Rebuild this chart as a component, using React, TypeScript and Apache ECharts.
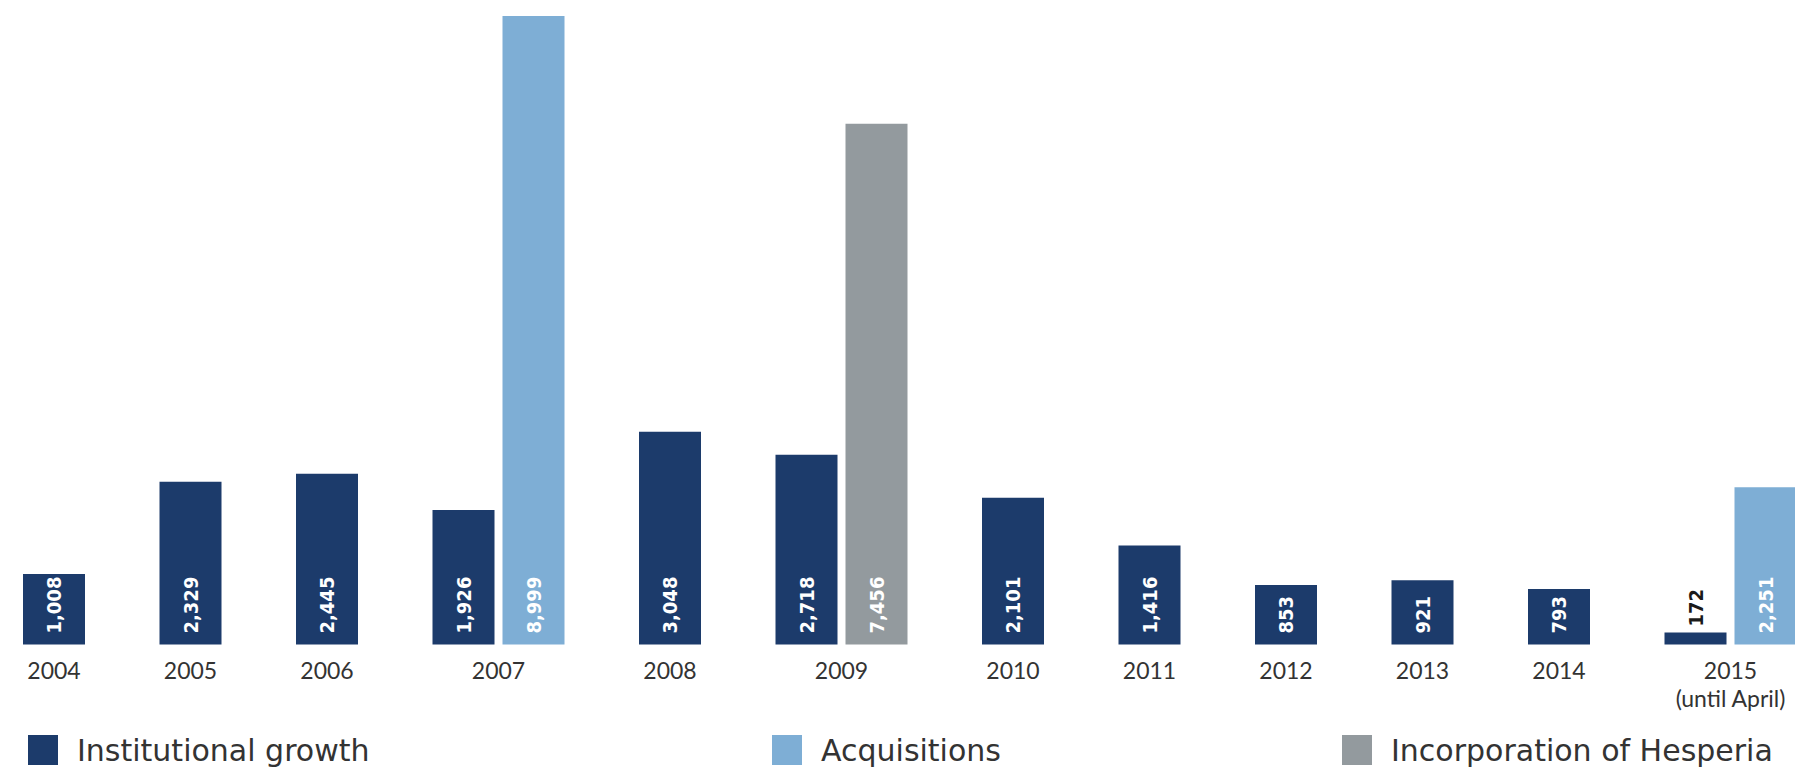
import React, { useEffect, useRef } from "react";
import * as echarts from "echarts";

// ---- data ----
const years = ["2004", "2005", "2006", "2007", "2008", "2009", "2010", "2011", "2012", "2013", "2014", "2015"];
const yearLabels = ["2004", "2005", "2006", "2007", "2008", "2009", "2010", "2011", "2012", "2013", "2014", "2015\n(until April)"];
const institutional = [1008, 2329, 2445, 1926, 3048, 2718, 2101, 1416, 853, 921, 793, 172];
const acquisitions: (number | null)[] = [null, null, null, 8999, null, null, null, null, null, null, null, 2251];
const hesperia: (number | null)[] = [null, null, null, null, null, 7456, null, null, null, null, null, null];
const seriesNames = ["Institutional growth", "Acquisitions", "Incorporation of Hesperia"];
const colors = ["#1c3b6b", "#7eaed5", "#939a9e"];

// ---- layout constants ----
const W = 1795;
const H = 767;
const BAR_W = 62;
const INNER_GAP = 8;
const CAT_GAP = 74.5;
const START = -14.25;

function buildLayout() {
  const centers: number[] = [];
  const slotX: number[][] = [];
  let pos = START;
  years.forEach((_, i) => {
    const n = 1 + (acquisitions[i] != null ? 1 : 0) + (hesperia[i] != null ? 1 : 0);
    const width = CAT_GAP + n * BAR_W + (n - 1) * INNER_GAP;
    const xs: number[] = [];
    for (let k = 0; k < n; k++) {
      xs.push(pos + CAT_GAP / 2 + k * (BAR_W + INNER_GAP) + BAR_W / 2);
    }
    slotX.push(xs);
    centers.push(pos + width / 2);
    pos += width;
  });
  return { centers, slotX };
}

const LABEL_FONT = "'DejaVu Sans Condensed', 'Liberation Sans Narrow', sans-serif";

export default function App() {
  const ref = useRef<HTMLDivElement>(null);
  useEffect(() => {
    document.body.style.margin = "0";
    if (!ref.current) return;
    const chart = echarts.init(ref.current, undefined, { renderer: "svg" });
    const { centers, slotX } = buildLayout();

    const fmt = (p: any) => Number(p.value[1]).toLocaleString("en-US");
    const baseLabel = {
      show: true,
      position: "insideBottom",
      rotate: 90,
      align: "left",
      verticalAlign: "middle",
      distance: 11,
      color: "#ffffff",
      fontFamily: LABEL_FONT,
      fontSize: 20,
      fontWeight: "bold",
      formatter: fmt,
    };
    const item = (x: number, v: number) =>
      v < 500
        ? { value: [x, v], label: { position: "top", distance: 6, color: "#1a1a1a" } }
        : { value: [x, v] };

    const instData = institutional.map((v, i) => item(slotX[i][0], v));
    const acqData: any[] = [];
    acquisitions.forEach((v, i) => {
      if (v != null) acqData.push(item(slotX[i][1], v));
    });
    const hespData: any[] = [];
    hesperia.forEach((v, i) => {
      if (v != null) hespData.push(item(slotX[i][1], v));
    });

    const legendBase = {
      top: 730,
      itemWidth: 30,
      itemHeight: 30,
      icon: "rect",
      textStyle: {
        fontFamily: "'DejaVu Sans', sans-serif",
        fontSize: 30,
        lineHeight: 30,
        color: "#333333",
        padding: [0, 0, 0, 14],
      },
    };

    chart.setOption({
      animation: false,
      backgroundColor: "#ffffff",
      color: colors,
      grid: { left: 0, right: 0, top: 16, bottom: 122.5, containLabel: false },
      legend: [
        { ...legendBase, left: 23, data: [seriesNames[0]] },
        { ...legendBase, left: 767, data: [seriesNames[1]] },
        { ...legendBase, left: 1337, data: [seriesNames[2]] },
      ],
      xAxis: {
        type: "value",
        min: 0,
        max: W,
        axisLine: { show: false },
        axisTick: { show: false },
        splitLine: { show: false },
        axisLabel: {
          customValues: centers,
          margin: 11,
          fontFamily: "Lato, 'Open Sans', sans-serif",
          fontSize: 23,
          lineHeight: 28,
          color: "#333333",
          verticalAlign: "top",
          formatter: (value: number) => {
            let best = 0;
            centers.forEach((c, i) => {
              if (Math.abs(c - value) < Math.abs(centers[best] - value)) best = i;
            });
            return yearLabels[best];
          },
        },
      },
      yAxis: {
        type: "value",
        min: 0,
        max: 9000,
        show: false,
        splitLine: { show: false },
      },
      series: [
        { name: seriesNames[0], type: "bar", barWidth: BAR_W, barGap: "-100%", data: instData, label: baseLabel, itemStyle: { color: colors[0] } },
        { name: seriesNames[1], type: "bar", barWidth: BAR_W, barGap: "-100%", data: acqData, label: baseLabel, itemStyle: { color: colors[1] } },
        { name: seriesNames[2], type: "bar", barWidth: BAR_W, barGap: "-100%", data: hespData, label: baseLabel, itemStyle: { color: colors[2] } },
      ],
    });
    return () => chart.dispose();
  }, []);
  return <div ref={ref} style={{ position: "absolute", left: 0, top: 0, width: W, height: H }} />;
}
